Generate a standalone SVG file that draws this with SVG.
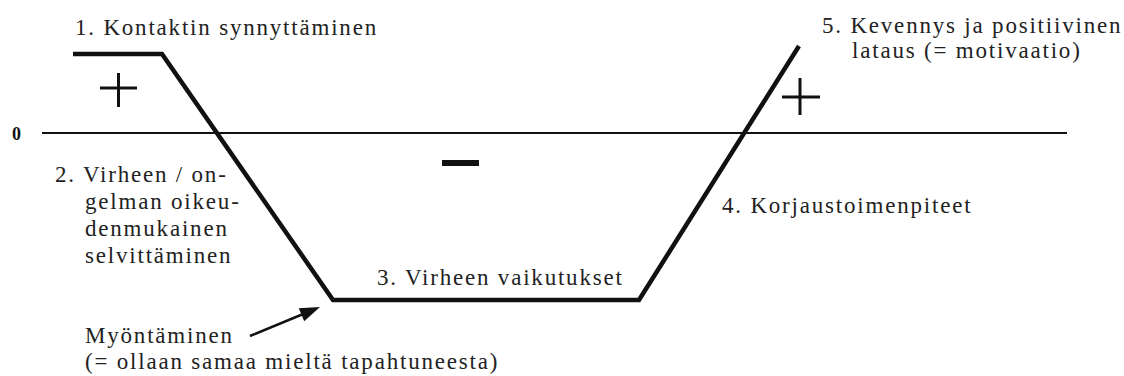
<svg xmlns="http://www.w3.org/2000/svg" width="1124" height="376" viewBox="0 0 1124 376">
<style>
.lbl{font-family:'Liberation Serif','Times New Roman',serif;font-size:23px;letter-spacing:1.8px;fill:#222}
.zero{font-family:'Liberation Serif','Times New Roman',serif;font-size:18px;font-weight:bold;fill:#111}
.curve{fill:none;stroke:#111;stroke-width:4.5;stroke-linejoin:miter}
.axis{stroke:#111;stroke-width:2}
.sign{stroke:#111;stroke-width:3}
</style>
<g id="axis">
<line class="axis" x1="42" y1="133" x2="1067" y2="133"/>
<text class="zero" x="12" y="140">0</text>
</g>
<g id="connectors">
<path class="curve" d="M73,54 L162,54 L333,300 L639,300 L799,46"/>
<line x1="250" y1="336" x2="302" y2="314.5" stroke="#111" stroke-width="2.5"/>
<path d="M320,307 L298.8,308.2 L304.2,321.2 Z" fill="#111"/>
</g>
<g id="signs">
<line class="sign" x1="100" y1="88" x2="137" y2="88"/>
<line class="sign" x1="118.5" y1="73" x2="118.5" y2="107"/>
<rect x="442" y="160" width="37" height="6" fill="#111"/>
<line class="sign" x1="782" y1="97" x2="820" y2="97"/>
<line class="sign" x1="800" y1="78" x2="800" y2="115"/>
</g>
<g id="n1"><text class="lbl" x="75" y="35">1. Kontaktin synnyttäminen</text></g>
<g id="n2">
<text class="lbl" x="55" y="182">2. Virheen / on-</text>
<text class="lbl" x="85" y="209">gelman oikeu-</text>
<text class="lbl" x="85" y="236">denmukainen</text>
<text class="lbl" x="85" y="263">selvittäminen</text>
</g>
<g id="n3"><text class="lbl" x="377" y="285">3. Virheen vaikutukset</text></g>
<g id="n4"><text class="lbl" x="722" y="213">4. Korjaustoimenpiteet</text></g>
<g id="n5">
<text class="lbl" x="822" y="33">5. Kevennys ja positiivinen</text>
<text class="lbl" x="852" y="58">lataus (= motivaatio)</text>
</g>
<g id="myo">
<text class="lbl" x="85" y="343">Myöntäminen</text>
<text class="lbl" x="85" y="369">(= ollaan samaa mieltä tapahtuneesta)</text>
</g>
</svg>
